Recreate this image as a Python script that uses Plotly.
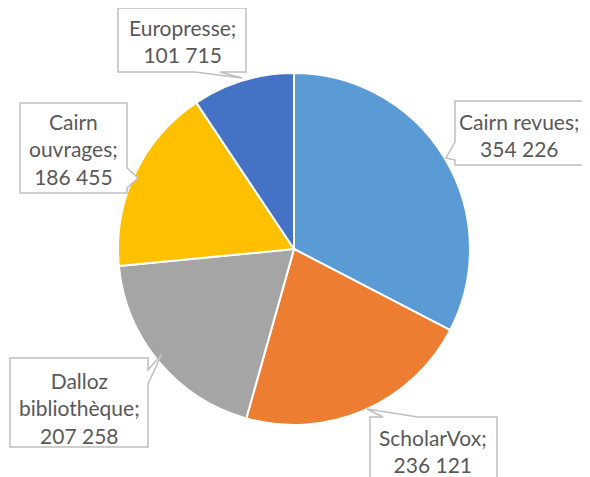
import plotly.graph_objects as go

labels = ["Cairn revues", "ScholarVox", "Dalloz bibliothèque", "Cairn ouvrages", "Europresse"]
values = [354226, 236121, 207258, 186455, 101715]
value_text = ["354 226", "236 121", "207 258", "186 455", "101 715"]
label_lines = [["Cairn revues;"], ["ScholarVox;"], ["Dalloz", "bibliothèque;"], ["Cairn", "ouvrages;"], ["Europresse;"]]
colors = ["#5B9BD5", "#ED7D31", "#A5A5A5", "#FFC000", "#4472C4"]

# page body has an 8px margin; figure sized to fit the window
OFF = 8
W, H = 590 - OFF, 477 - OFF

def px(x):
    return (x - OFF) / W

def py(y):
    return 1 - (y - OFF) / H

fig = go.Figure(go.Pie(
    labels=labels, values=values, sort=False, direction="clockwise", rotation=0,
    marker=dict(colors=colors, line=dict(color="white", width=2)),
    textinfo="none", hoverinfo="label+value", showlegend=False,
    domain=dict(x=[px(118), px(470)], y=[py(425), py(73)]),
))

# callout boxes: (left, top, right, bottom), pointer polygon (base1, tip, base2)
boxes = [
    ((455, 101, 583, 165), ((455, 142), (446, 158), (455, 160))),
    ((370, 417, 497, 490), ((383, 417), (367, 409), (418, 417))),
    ((10, 358, 148, 447), ((148, 370), (162, 354), (148, 384))),
    ((20, 103, 127, 193), ((127, 168), (138, 178), (127, 188))),
    ((118, 8, 246, 72), ((195, 72), (242, 78), (220, 72))),
]
text_centers = [(519, 135), (433, 451), (79, 408), (73, 149), (182, 41)]

shapes = []
annotations = []
for i, ((l, t, r, b), (p1, tip, p2)) in enumerate(boxes):
    if p1[1] == t and p2[1] == t:
        pts = [(l, t), p1, tip, p2, (r, t), (r, b), (l, b)]
    elif p1[0] == r and p2[0] == r:
        pts = [(l, t), (r, t), p1, tip, p2, (r, b), (l, b)]
    elif p1[1] == b and p2[1] == b:
        pts = [(l, t), (r, t), (r, b), p2, tip, p1, (l, b)]
    else:
        pts = [(l, t), (r, t), (r, b), (l, b), p2, tip, p1]
    path = "M " + " L ".join(f"{px(x):.5f},{py(y):.5f}" for x, y in pts) + " Z"
    shapes.append(dict(type="path", path=path, xref="paper", yref="paper",
                       line=dict(color="#BFBFBF", width=1.5), fillcolor="white", layer="above"))
    text = "<br>".join(label_lines[i] + [value_text[i]])
    cx, cy = text_centers[i]
    annotations.append(dict(x=px(cx), y=py(cy), xref="paper", yref="paper", text=text,
                            showarrow=False, xanchor="center", yanchor="middle",
                            font=dict(family="Lato, Carlito, sans-serif", size=21, color="#595959")))

fig.update_layout(
    width=W, height=H, margin=dict(l=0, r=0, t=0, b=0),
    paper_bgcolor="white", plot_bgcolor="white",
    shapes=shapes, annotations=annotations,
)

fig.write_html("out.html")
